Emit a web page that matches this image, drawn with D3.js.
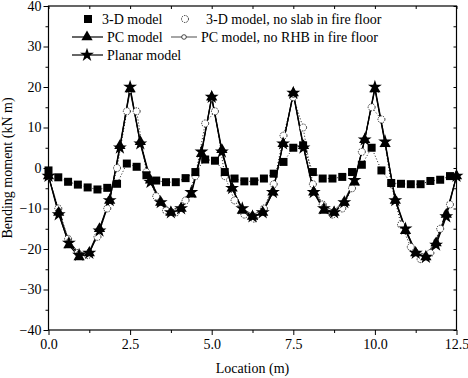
<!DOCTYPE html>
<html lang="en">
<head>
<meta charset="UTF-8">
<title>Bending moment along beam</title>
<script src="https://d3js.org/d3.v7.min.js"></script>
<style>
  body { margin: 0; background: #fff; }
  svg { display: block; }
  .tick text { font-family: "Liberation Serif", "Times New Roman", serif; font-size: 14px; fill: #000; }
  .label { font-family: "Liberation Serif", "Times New Roman", serif; font-size: 14px; fill: #000; }
</style>
</head>
<body>
<svg id="chart" width="468" height="378"></svg>
<script>
// x positions (m)
const loc3d = d3.range(42).map(i => +(i * 0.3).toFixed(2));      // 0 .. 12.3
const locFrame = d3.range(41).map(i => i * 0.3125);               // 0 .. 12.5

// bending moments (kN m)
const model3d = [-0.6, -2.3, -3.4, -4.1, -4.8, -5.3, -4.9, -3.9, 1.1, 0.3,
  -1.8, -3.1, -3.5, -3.5, -2.5, -1.0, 2.1, 1.8, -1.0, -2.6,
  -3.3, -3.3, -2.6, -1.4, 1.5, 5.0, 5.6, -1.0, -2.6, -2.6,
  -2.2, -1.0, 0.8, 5.0, -0.6, -3.7, -3.9, -4.0, -4.0, -3.2,
  -2.9, -2.0];
const model3dNoSlab = [-2, -10, -17.5, -21, -21.5, -17, -10, 0, 14, 14,
  -1, -7, -10.5, -11, -8, -2, 11, 14, -2, -8,
  -11.5, -12.5, -10, -4, 8, 17.5, 10, -4, -9, -11.5,
  -10, -5, 4, 15, 12, -4, -14, -19.5, -22.5, -21,
  -15, -9];
const pcModel = [-2, -11, -19, -22, -21, -15, -8, 5.5, 19.5, 6.5,
  -3, -8.5, -11, -10, -6.5, 3.5, 17.5, 4.5, -5, -10.5,
  -12, -11, -6, 6, 18.5, 5.5, -6, -10.5, -11, -8.5,
  -3.5, 7, 19.5, 6, -8, -15.5, -21, -22, -18.5, -11.5, -2];
const pcNoRhb = [-2, -10.5, -18, -21, -20.5, -15, -7.5, 5, 19, 6,
  -3, -8, -10.5, -9.5, -6, 4, 17, 4, -5, -10,
  -11.5, -10.5, -5.5, 6, 18, 5, -5.5, -9.5, -10.5, -8,
  -3, 7, 19.5, 6, -7.5, -15, -20.5, -21.5, -18, -11, -2];
const planar = [-2, -11.5, -18.5, -21.5, -21, -15.5, -8, 5, 20, 6,
  -3.5, -8.5, -11, -10, -6, 4, 17.5, 4, -5, -10,
  -12, -11, -6, 6, 18.5, 5, -6, -10, -11, -8.5,
  -3, 7, 20, 6.5, -8, -15, -21, -22, -19, -12, -2];

const xTicks = [0, 2.5, 5, 7.5, 10, 12.5];
const yTicks = [-40, -30, -20, -10, 0, 10, 20, 30, 40];

const svg = d3.select("#chart");
const margin = { left: 48.5, right: 11.5, top: 6, bottom: 48 };
const W = 468, H = 378;

const x = d3.scaleLinear().domain([0, 12.5]).range([margin.left, W - margin.right]);
const y = d3.scaleLinear().domain([-40, 40]).range([H - margin.bottom, margin.top]);

// frame
svg.append("rect")
  .attr("x", x(0)).attr("y", y(40))
  .attr("width", x(12.5) - x(0)).attr("height", y(-40) - y(40))
  .attr("fill", "none").attr("stroke", "#000").attr("stroke-width", 1.2);

// axes
const minorX = d3.range(1.25, 12.5, 2.5);
const minorY = d3.range(-35, 40, 10);

svg.append("g").attr("transform", `translate(0,${y(-40)})`)
  .call(d3.axisBottom(x).tickValues(xTicks).tickFormat(d3.format(".1f")).tickSize(5).tickPadding(4))
  .call(g => g.select(".domain").remove());
svg.append("g").attr("transform", `translate(0,${y(-40)})`)
  .call(d3.axisBottom(x).tickValues(minorX).tickFormat("").tickSize(3))
  .call(g => g.select(".domain").remove());
svg.append("g").attr("transform", `translate(${x(0)},0)`)
  .call(d3.axisLeft(y).tickValues(yTicks).tickFormat(d3.format("d")).tickSize(5).tickPadding(2))
  .call(g => g.select(".domain").remove());
svg.append("g").attr("transform", `translate(${x(0)},0)`)
  .call(d3.axisLeft(y).tickValues(minorY).tickFormat("").tickSize(3))
  .call(g => g.select(".domain").remove());
// right and top inward ticks
svg.append("g").attr("transform", `translate(${x(12.5)},0)`)
  .call(d3.axisLeft(y).tickValues(yTicks.concat(minorY)).tickFormat("").tickSize(3))
  .call(g => g.select(".domain").remove());
svg.append("g").attr("transform", `translate(0,${y(40)})`)
  .call(d3.axisBottom(x).tickValues(xTicks.concat(minorX)).tickFormat("").tickSize(3))
  .call(g => g.select(".domain").remove());
svg.selectAll(".tick line").attr("stroke", "#000");

// axis titles
svg.append("text").attr("class", "label")
  .attr("x", (x(0) + x(12.5)) / 2).attr("y", 373)
  .attr("text-anchor", "middle").text("Location (m)");
svg.append("text").attr("class", "label")
  .attr("transform", `translate(12,${(y(40) + y(-40)) / 2}) rotate(-90)`)
  .attr("text-anchor", "middle").text("Bending moment (kN m)");

// series
const pts = (xs, vs) => vs.map((v, i) => [xs[i], v]);
const line = d3.line().x(d => x(d[0])).y(d => y(d[1]));

const series = [
  { name: "3-D model", data: pts(loc3d, model3d), dash: "1,2", width: 0.9, sym: "square" },
  { name: "3-D model, no slab in fire floor", data: pts(loc3d, model3dNoSlab), dash: "1,2", width: 0.9, sym: "circle" },
  { name: "PC model", data: pts(locFrame, pcModel), dash: null, width: 1.2, sym: "triangle" },
  { name: "PC model, no RHB in fire floor", data: pts(locFrame, pcNoRhb), dash: null, width: 0.7, sym: "smallcircle" },
  { name: "Planar model", data: pts(locFrame, planar), dash: null, width: 1.2, sym: "star" }
];

function drawSymbol(g, sym, cx, cy) {
  if (sym === "square") {
    g.append("path").attr("transform", `translate(${cx},${cy})`)
      .attr("d", d3.symbol(d3.symbolSquare, 64)()).attr("fill", "#000");
  } else if (sym === "circle") {
    g.append("circle").attr("cx", cx).attr("cy", cy).attr("r", 3.5)
      .attr("fill", "#fff").attr("stroke", "#000").attr("stroke-width", 0.8)
      .attr("stroke-dasharray", "1.5,1");
  } else if (sym === "smallcircle") {
    g.append("circle").attr("cx", cx).attr("cy", cy).attr("r", 2.3)
      .attr("fill", "#fff").attr("stroke", "#000").attr("stroke-width", 0.7);
  } else if (sym === "triangle") {
    g.append("path").attr("transform", `translate(${cx},${cy})`)
      .attr("d", d3.symbol(d3.symbolTriangle, 55)()).attr("fill", "#000");
  } else if (sym === "star") {
    g.append("path").attr("transform", `translate(${cx},${cy})`)
      .attr("d", d3.symbol(d3.symbolStar, 60)()).attr("fill", "#000");
  }
}

const plot = svg.append("g");
series.forEach(s => {
  plot.append("path").datum(s.data)
    .attr("d", line).attr("fill", "none")
    .attr("stroke", "#000").attr("stroke-width", s.width)
    .attr("stroke-dasharray", s.dash);
});
// markers: open ones first, filled on top
[1, 3, 2, 4, 0].forEach(k => {
  const s = series[k];
  const g = plot.append("g");
  s.data.forEach(d => drawSymbol(g, s.sym, x(d[0]), y(d[1])));
});

// legend
const leg = svg.append("g");
const legRows = [
  { s: series[0], lx: 88, ly: 19, tx: 102, line: false },
  { s: series[1], lx: 185, ly: 19, tx: 206, line: false },
  { s: series[2], lx: 87, ly: 37, tx: 107, line: [72, 103] },
  { s: series[3], lx: 184, ly: 37, tx: 201, line: [171, 197] },
  { s: series[4], lx: 87, ly: 55, tx: 107, line: [72, 103] }
];
legRows.forEach(r => {
  if (r.line) {
    leg.append("line").attr("x1", r.line[0]).attr("x2", r.line[1])
      .attr("y1", r.ly).attr("y2", r.ly)
      .attr("stroke", "#000").attr("stroke-width", r.s.width);
  }
  drawSymbol(leg, r.s.sym, r.lx, r.ly);
  leg.append("text").attr("class", "label")
    .attr("x", r.tx).attr("y", r.ly).attr("dy", "0.35em")
    .text(r.s.name);
});
</script>
</body>
</html>
